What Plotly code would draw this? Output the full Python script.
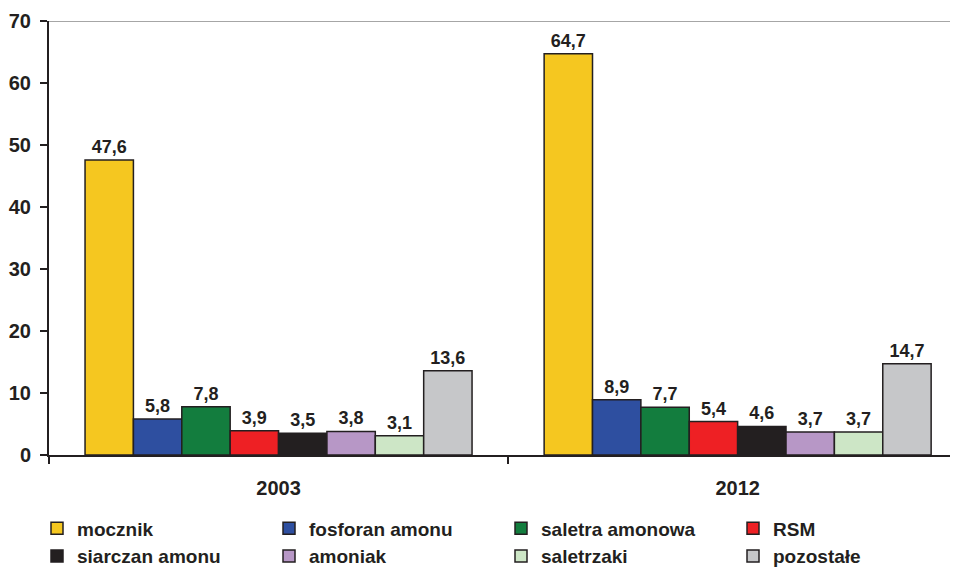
import plotly.graph_objects as go

years = ["2003", "2012"]
series = ["mocznik", "fosforan amonu", "saletra amonowa", "RSM",
          "siarczan amonu", "amoniak", "saletrzaki", "pozostałe"]
values = {
    "mocznik": [47.6, 64.7],
    "fosforan amonu": [5.8, 8.9],
    "saletra amonowa": [7.8, 7.7],
    "RSM": [3.9, 5.4],
    "siarczan amonu": [3.5, 4.6],
    "amoniak": [3.8, 3.7],
    "saletrzaki": [3.1, 3.7],
    "pozostałe": [13.6, 14.7],
}
colors = ["#F5C720", "#2E4FA0", "#137D3E", "#EE2024",
          "#231F20", "#B797C6", "#CDE6C6", "#C6C7C9"]
y_ticks = [0, 10, 20, 30, 40, 50, 60, 70]

FONT = "Liberation Sans, Arial, sans-serif"
DARK = "#231F20"

fig = go.Figure()
for name, col in zip(series, colors):
    fig.add_trace(go.Bar(
        name=name, x=years, y=values[name],
        marker=dict(color=col, line=dict(color=DARK, width=1.5)),
        texttemplate="%{y:.1f}", textposition="outside",
        textfont=dict(family=FONT, size=18, color=DARK, weight="bold"),
        cliponaxis=False,
    ))

fig.add_shape(type="line", xref="paper", yref="y", x0=0, x1=1, y0=70, y1=70,
              line=dict(color="#A6A6A6", width=2), layer="below")

# the page body has an 8px margin, so the figure is sized 8px smaller
fig.update_layout(
    width=950, height=559,
    margin=dict(l=41, r=0, t=13, b=112, autoexpand=False),
    paper_bgcolor="white", plot_bgcolor="white",
    separators=", ",
    barmode="group", bargap=0.157, bargroupgap=0,
    font=dict(family=FONT, color=DARK),
    showlegend=True,
    legend=dict(
        orientation="h", x=-0.0132, xanchor="left", y=-0.1256, yanchor="top",
        font=dict(family=FONT, size=19, color=DARK, weight="bold"),
        entrywidth=187, entrywidthmode="pixels",
        itemwidth=30, traceorder="normal", tracegroupgap=0,
    ),
    xaxis=dict(
        type="category", range=[-0.5, 1.48],
        showline=True, linecolor=DARK, linewidth=2,
        ticks="outside", tickson="boundaries", ticklen=7, tickwidth=2, tickcolor=DARK,
        tickfont=dict(family=FONT, size=20, color=DARK, weight="bold"),
        ticklabelstandoff=14,
        showgrid=False, zeroline=False,
    ),
    yaxis=dict(
        range=[0, 70], tickvals=y_ticks,
        showline=True, linecolor=DARK, linewidth=2,
        ticks="outside", ticklen=7, tickwidth=2, tickcolor=DARK,
        tickfont=dict(family=FONT, size=20, color=DARK, weight="bold"),
        ticklabelstandoff=5,
        showgrid=False, zeroline=False,
    ),
)

fig.write_html("out.html")
